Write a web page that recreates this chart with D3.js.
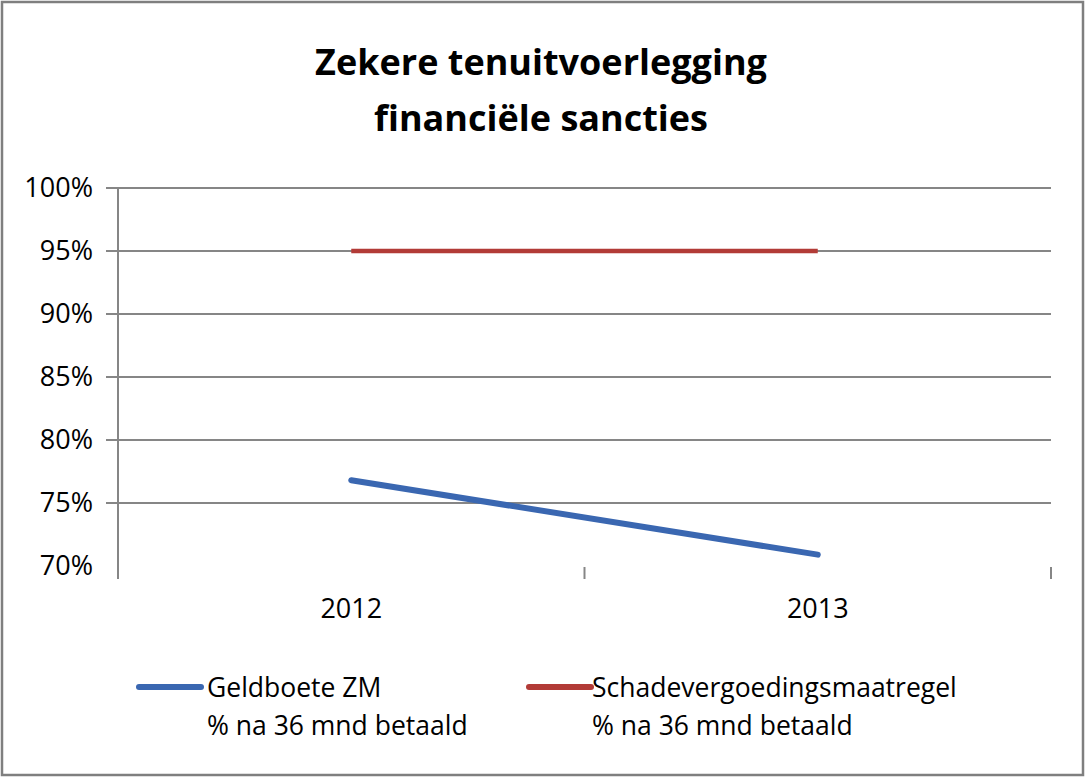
<!DOCTYPE html>
<html><head><meta charset="utf-8">
<script src="https://cdn.jsdelivr.net/npm/d3@7"></script>
<style>body{margin:0;background:#fff}svg{display:block}</style>
</head><body>
<svg id="c" width="1086" height="778"></svg>
<script>
const categories = ["2012", "2013"];
const geldboete = [0.768, 0.709];
const schade = [0.95, 0.95];
const yTicks = [0.70, 0.75, 0.80, 0.85, 0.90, 0.95, 1.00];
const seriesNames = [["Geldboete ZM", "% na 36 mnd betaald"], ["Schadevergoedingsmaatregel", "% na 36 mnd betaald"]];
const titleLines = ["Zekere tenuitvoerlegging", "financiële sancties"];

const svg = d3.select("#c");
const F = "'Open Sans',sans-serif";
svg.append("rect").attr("x",2).attr("y",2).attr("width",1081).attr("height",773)
  .attr("fill","#fff").attr("stroke","#7f7f7f").attr("stroke-width",2.5);

svg.selectAll("text.title").data(titleLines).join("text")
  .attr("x",541).attr("y",(d,i)=>75+i*56).attr("text-anchor","middle")
  .attr("font-family","'Open Sans',sans-serif").attr("font-weight","bold").attr("font-size",36)
  .attr("fill","#000").text(d=>d);

const x = d3.scaleBand().domain(categories).range([118,1051]);
const y = d3.scaleLinear().domain([0.70,1.00]).range([566,188]);

svg.append("g").selectAll("line").data(yTicks.filter(t=>t>0.70)).join("line")
  .attr("x1",106).attr("x2",1051).attr("y1",d=>y(d)).attr("y2",d=>y(d))
  .attr("stroke","#868686").attr("stroke-width",2);

const ya = svg.append("g").attr("transform","translate(118,0)")
  .call(d3.axisLeft(y).tickValues(yTicks).tickFormat(d3.format(".0%")).tickSize(0).tickPadding(25));
ya.select(".domain").remove();
ya.selectAll("text").attr("font-family",F).attr("font-size",27).attr("fill","#000");
svg.append("line").attr("x1",118).attr("x2",118).attr("y1",188).attr("y2",578)
  .attr("stroke","#868686").attr("stroke-width",2);

const xa = svg.append("g").attr("transform","translate(0,566)")
  .call(d3.axisBottom(x).tickSize(0).tickPadding(33));
xa.select(".domain").remove();
xa.selectAll("text").attr("font-family",F).attr("font-size",27).attr("fill","#000");
const bounds = [...categories.map(c=>x(c)), x.range()[1]];
svg.append("g").selectAll("line").data(bounds).join("line")
  .attr("x1",d=>d).attr("x2",d=>d).attr("y1",567).attr("y2",579)
  .attr("stroke","#868686").attr("stroke-width",2);

const line = d3.line().x((d,i)=>x(categories[i])+x.bandwidth()/2).y(d=>y(d));
svg.append("path").datum(schade).attr("d",line).attr("fill","none")
  .attr("stroke","#b23b37").attr("stroke-width",4.5);
svg.append("path").datum(geldboete).attr("d",line).attr("fill","none")
  .attr("stroke","#3a67b1").attr("stroke-width",6).attr("stroke-linecap","round");

const leg = [{c:"#3a67b1",x:137,tx:207,names:seriesNames[0]},{c:"#b23b37",x:527,tx:592,names:seriesNames[1]}];
leg.forEach(l=>{
  svg.append("line").attr("x1",l.x+2).attr("x2",l.x+64).attr("y1",687).attr("y2",687)
    .attr("stroke",l.c).attr("stroke-width",6).attr("stroke-linecap","round");
  svg.append("text").attr("x",l.tx).attr("y",697).attr("font-family",F).attr("font-size",26.5).text(l.names[0]);
  svg.append("text").attr("x",l.tx).attr("y",735).attr("font-family",F).attr("font-size",26.5).text(l.names[1]);
});
</script>
</body></html>
